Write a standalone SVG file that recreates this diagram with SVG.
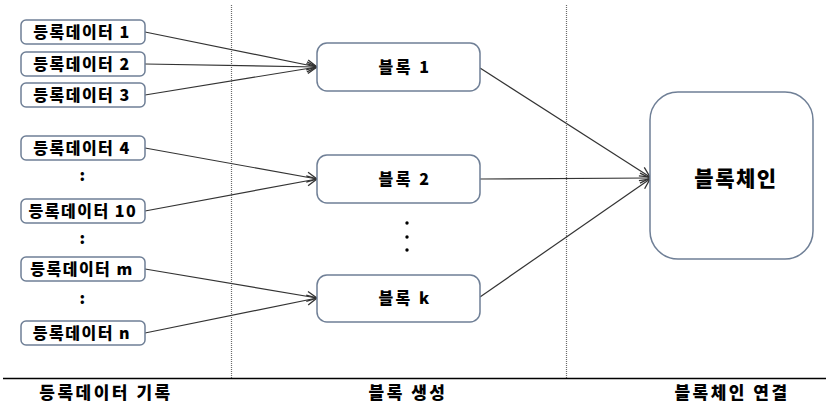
<svg xmlns="http://www.w3.org/2000/svg" width="826" height="407" viewBox="0 0 826 407">
  <style>
    .box { fill: #ffffff; stroke: #6f7f96; stroke-width: 1.5; }
    .lbl { font-family: "Noto Sans CJK KR", "Liberation Sans", sans-serif; font-weight: 900; font-size: 16px; fill: #000; text-anchor: middle; letter-spacing: 1.5px; }
    .blk { letter-spacing: 2.5px; }
    .big { font-size: 21px; letter-spacing: 1.5px; }
    .cap { font-size: 17px; letter-spacing: 2.5px; }
    .sep { stroke: #6a6a6a; stroke-width: 1.2; stroke-dasharray: 1 1; fill: none; }
    .edge { stroke: #333; stroke-width: 1.2; fill: none; marker-end: url(#arr); }
  </style>
  <defs>
    <marker id="arr" viewBox="0 0 12 12" refX="11" refY="6" markerWidth="12" markerHeight="12" markerUnits="userSpaceOnUse" orient="auto">
      <path d="M1,1 L11,6 L1,11" fill="none" stroke="#333" stroke-width="1.3"/>
    </marker>
  </defs>
  <rect width="826" height="407" fill="#ffffff"/>

  <!-- stage separators -->
  <g id="frame">
    <line class="sep" x1="231.5" y1="5" x2="231.5" y2="378"/>
    <line class="sep" x1="566.5" y1="5" x2="566.5" y2="378"/>
    <line x1="3" y1="378.5" x2="826" y2="378.5" stroke="#000" stroke-width="1.5"/>
  </g>

  <!-- connectors -->
  <g id="connectors">
    <line class="edge" x1="145" y1="32" x2="317" y2="67"/>
    <line class="edge" x1="145" y1="64" x2="317" y2="67"/>
    <line class="edge" x1="145" y1="95" x2="317" y2="67"/>
    <line class="edge" x1="145" y1="148" x2="317" y2="179"/>
    <line class="edge" x1="145" y1="211" x2="317" y2="179"/>
    <line class="edge" x1="145" y1="269" x2="317" y2="298"/>
    <line class="edge" x1="145" y1="333" x2="317" y2="298"/>
    <line class="edge" x1="480" y1="68" x2="650" y2="177"/>
    <line class="edge" x1="480" y1="179" x2="650" y2="178"/>
    <line class="edge" x1="480" y1="297" x2="650" y2="179"/>
  </g>

  <!-- data records -->
  <g id="data1"><rect class="box" x="21" y="20" width="124" height="24" rx="5"/><text class="lbl" x="82" y="38">등록데이터 1</text></g>
  <g id="data2"><rect class="box" x="21" y="52" width="124" height="24" rx="5"/><text class="lbl" x="82" y="70">등록데이터 2</text></g>
  <g id="data3"><rect class="box" x="21" y="83" width="124" height="24" rx="5"/><text class="lbl" x="82" y="101">등록데이터 3</text></g>
  <g id="data4"><rect class="box" x="21" y="136" width="124" height="24" rx="5"/><text class="lbl" x="82" y="154">등록데이터 4</text></g>
  <text class="lbl" x="83" y="181">:</text>
  <g id="data10"><rect class="box" x="21" y="199" width="124" height="24" rx="5"/><text class="lbl" x="83" y="217">등록데이터 10</text></g>
  <text class="lbl" x="83" y="244">:</text>
  <g id="datam"><rect class="box" x="21" y="257" width="124" height="24" rx="5"/><text class="lbl" x="82" y="275">등록데이터 m</text></g>
  <text class="lbl" x="83" y="304">:</text>
  <g id="datan"><rect class="box" x="21" y="321" width="124" height="24" rx="5"/><text class="lbl" x="82" y="339">등록데이터 n</text></g>

  <!-- blocks -->
  <g id="block1"><rect class="box" x="317" y="43" width="163" height="48" rx="10"/><text class="lbl blk" x="405" y="73">블록 1</text></g>
  <g id="block2"><rect class="box" x="317" y="155" width="163" height="48" rx="10"/><text class="lbl blk" x="405" y="185">블록 2</text></g>
  <g id="blockdots" fill="#000">
    <circle cx="407" cy="223" r="1.7"/>
    <circle cx="407" cy="237" r="1.7"/>
    <circle cx="407" cy="250" r="1.7"/>
  </g>
  <g id="blockk"><rect class="box" x="317" y="275" width="163" height="47" rx="10"/><text class="lbl blk" x="405" y="304">블록 k</text></g>

  <!-- chain -->
  <g id="chain"><rect class="box" x="650" y="92" width="163" height="167" rx="28"/><text class="lbl big" x="736" y="186">블록체인</text></g>

  <!-- stage captions -->
  <g id="captions">
    <text class="lbl cap" x="106" y="399">등록데이터 기록</text>
    <text class="lbl cap" x="408" y="399">블록 생성</text>
    <text class="lbl cap" x="732" y="399">블록체인 연결</text>
  </g>
</svg>
